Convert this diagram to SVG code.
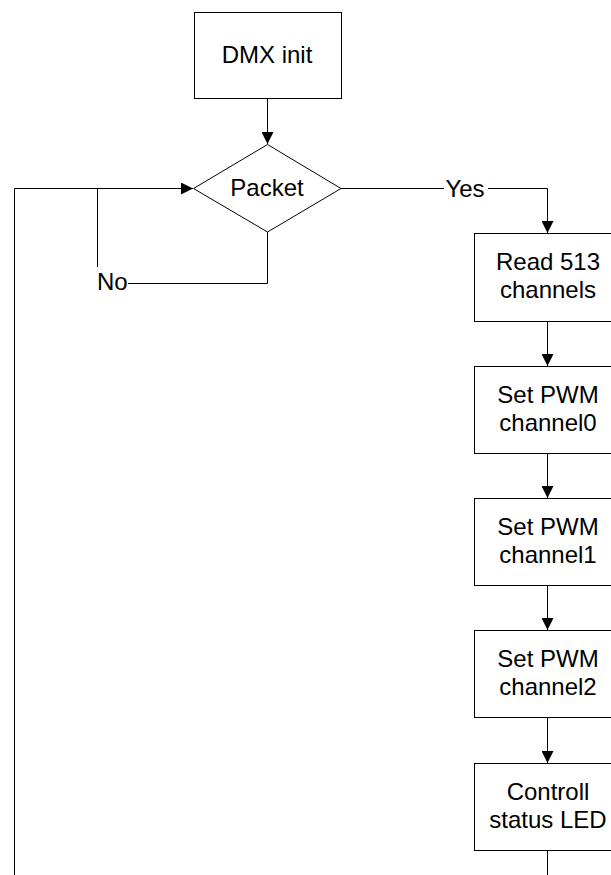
<svg xmlns="http://www.w3.org/2000/svg" width="611" height="875" viewBox="0 0 611 875">
<style>
.box{fill:#fff;stroke:#000;stroke-width:1}
.ln{fill:none;stroke:#000;stroke-width:1}
text{font-family:"Liberation Sans",Arial,sans-serif;font-size:24px;fill:#000}
.c{text-anchor:middle}
</style>
<defs>
<marker id="ah" markerWidth="12" markerHeight="12" refX="12" refY="6" orient="auto" markerUnits="userSpaceOnUse">
<path d="M0,0 L12,6 L0,12 Z" fill="#000"/>
</marker>
</defs>
<rect width="611" height="875" fill="#fff"/>
<g id="connectors">
<line class="ln" x1="267.5" y1="99" x2="267.5" y2="144" marker-end="url(#ah)"/>
<polyline class="ln" points="341,188.5 444,188.5"/>
<polyline class="ln" points="488,188.5 547.5,188.5 547.5,233" marker-end="url(#ah)"/>
<polyline class="ln" points="267.5,232 267.5,283.5 128,283.5"/>
<polyline class="ln" points="97.5,267 97.5,188.5"/>
<polyline class="ln" points="14.5,875 14.5,188.5 193,188.5" marker-end="url(#ah)"/>
<line class="ln" x1="547.5" y1="322" x2="547.5" y2="366" marker-end="url(#ah)"/>
<line class="ln" x1="547.5" y1="454" x2="547.5" y2="498" marker-end="url(#ah)"/>
<line class="ln" x1="547.5" y1="586" x2="547.5" y2="630" marker-end="url(#ah)"/>
<line class="ln" x1="547.5" y1="718" x2="547.5" y2="763" marker-end="url(#ah)"/>
<line class="ln" x1="547.5" y1="851" x2="547.5" y2="875"/>
<text x="465" y="197" class="c">Yes</text>
<text x="97" y="290">No</text>
</g>
<g id="dmx-init">
<rect class="box" x="194.5" y="12.5" width="147" height="86"/>
<text x="267" y="63" class="c">DMX init</text>
</g>
<g id="packet">
<polygon class="box" points="267.5,144.5 341,188.5 267.5,232 193.5,188.5"/>
<text x="267" y="196" class="c">Packet</text>
</g>
<g id="read">
<rect class="box" x="474.5" y="233.5" width="148" height="88"/>
<text x="548" y="270" class="c">Read 513</text>
<text x="548" y="298" class="c">channels</text>
</g>
<g id="pwm0">
<rect class="box" x="474.5" y="366.5" width="148" height="87"/>
<text x="548" y="403" class="c">Set PWM</text>
<text x="548" y="431" class="c">channel0</text>
</g>
<g id="pwm1">
<rect class="box" x="474.5" y="498.5" width="148" height="87"/>
<text x="548" y="535" class="c">Set PWM</text>
<text x="548" y="563" class="c">channel1</text>
</g>
<g id="pwm2">
<rect class="box" x="474.5" y="630.5" width="148" height="87"/>
<text x="548" y="667" class="c">Set PWM</text>
<text x="548" y="695" class="c">channel2</text>
</g>
<g id="led">
<rect class="box" x="474.5" y="763.5" width="148" height="87"/>
<text x="548" y="800" class="c">Controll</text>
<text x="548" y="828" class="c">status LED</text>
</g>
</svg>
